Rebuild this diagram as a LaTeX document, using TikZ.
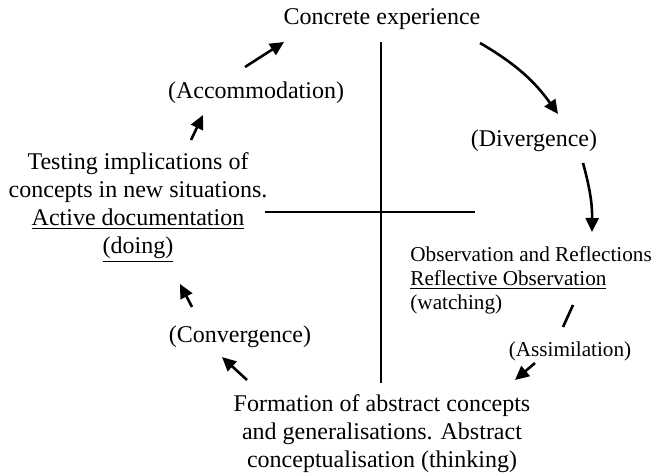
\documentclass[tikz,border=0pt]{standalone}
\usepackage{fontspec}
\setmainfont{Liberation Serif}
\usetikzlibrary{arrows.meta,calc}

\tikzset{
  lbl/.style={inner sep=0pt,font=\fontsize{12}{14}\selectfont,align=center},
  sml/.style={inner sep=0pt,font=\fontsize{10.6}{12}\selectfont,align=left},
  flow/.style={line width=1.3pt,-{Triangle[length=7pt,width=6.5pt]}},
  axis/.style={line width=1pt},
}

\begin{document}
\begin{tikzpicture}[x=0.5pt,y=-0.5pt]
\useasboundingbox (0,0) rectangle (654,476);
% the two axes
\draw[axis] (381,42) -- (381,383);
\draw[axis] (265,212) -- (475,212);
% stages of the cycle
\node[lbl] (conc) at (382,19) {Concrete experience};
\node[sml,anchor=west] (obs) at (410,280) {Observation and Reflections\\ \underline{Reflective Observation}\\ (watching)};
\node[lbl] (form) at (382,434) {Formation of abstract concepts\\ and generalisations. Abstract\\ conceptualisation (thinking)};
\node[lbl] (test) at (138,208) {Testing implications of\\ concepts in new situations.\\ \underline{Active documentation}\\ \underline{(doing)}};
% learning styles
\node[lbl] (div) at (534,141) {(Divergence)};
\node[sml] (assim) at (570,351) {(Assimilation)};
\node[lbl] (conv) at (240,337) {(Convergence)};
\node[lbl] (acc) at (256,93) {(Accommodation)};
% arrows round the cycle
\draw[flow] ($(conc)+(98,24)$) to[bend left=12] ($(div)+(24,-27)$);
\draw[flow] ($(div)+(49,22)$) to[bend left=8] ($(obs.west)+(182,-48)$);
\draw[line width=1.3pt] ($(assim)+(3,-46)$) -- ($(assim)+(-7,-24)$);
\draw[flow] ($(assim)+(-35,12)$) -- ($(assim)+(-55,29)$);
\draw[flow] ($(conv)+(7,43)$) -- ($(conv)+(-18,20)$);
\draw[flow] ($(conv)+(-48,-30)$) -- ($(conv)+(-60,-53)$);
\draw[flow] ($(acc)+(-65,47)$) -- ($(acc)+(-53,22)$);
\draw[flow] ($(acc)+(-11,-26)$) -- ($(acc)+(28,-51)$);
\end{tikzpicture}
\end{document}
